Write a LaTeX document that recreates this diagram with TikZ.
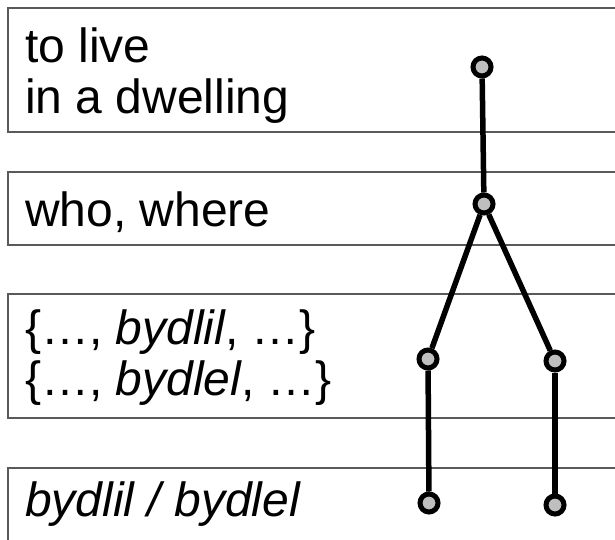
\documentclass[tikz,border=0pt]{standalone}
\usepackage{fontspec}
\setmainfont{Liberation Sans}
\begin{document}
\begin{tikzpicture}[x=1pt,y=-1pt,
  band/.style={draw=black!65,line width=2pt},
  lbl/.style={anchor=base west,inner sep=0pt,font=\fontsize{48}{54}\selectfont},
  vtx/.style={circle,draw=black,fill=black!25,line width=5pt,minimum size=18pt,inner sep=0pt},
  edge/.style={line width=5.5pt}]
\useasboundingbox (0,0) rectangle (615,540);
\begin{scope}
\clip (0,0) rectangle (615,540);
\draw[band] (8,8) rectangle (630,132);
\draw[band] (8,172) rectangle (630,245);
\draw[band] (8,294) rectangle (630,418);
\draw[band] (8,468) rectangle (630,560);
\end{scope}
\node[lbl] (t1) at (25,63) {to live};
\node[lbl] (t2) at (25,114) {in a dwelling};
\node[lbl] (t3) at (25,226) {who, where};
\node[lbl] (t4) at (25,344) {\{…, \textit{bydlil}, …\}};
\node[lbl] (t5) at (25,395) {\{…, \textit{bydlel}, …\}};
\node[lbl] (t6) at (25,516) {\textit{bydlil / bydlel}};
\node[vtx] (a) at (482,67) {};
\node[vtx] (b) at (484,204) {};
\node[vtx] (c) at (428,359) {};
\node[vtx] (d) at (555,361) {};
\node[vtx] (e) at (429,503) {};
\node[vtx] (f) at (555,505) {};
\draw[edge] (a) -- (b);
\draw[edge] (b) -- (c);
\draw[edge] (b) -- (d);
\draw[edge] (c) -- (e);
\draw[edge] (d) -- (f);
\end{tikzpicture}
\end{document}
